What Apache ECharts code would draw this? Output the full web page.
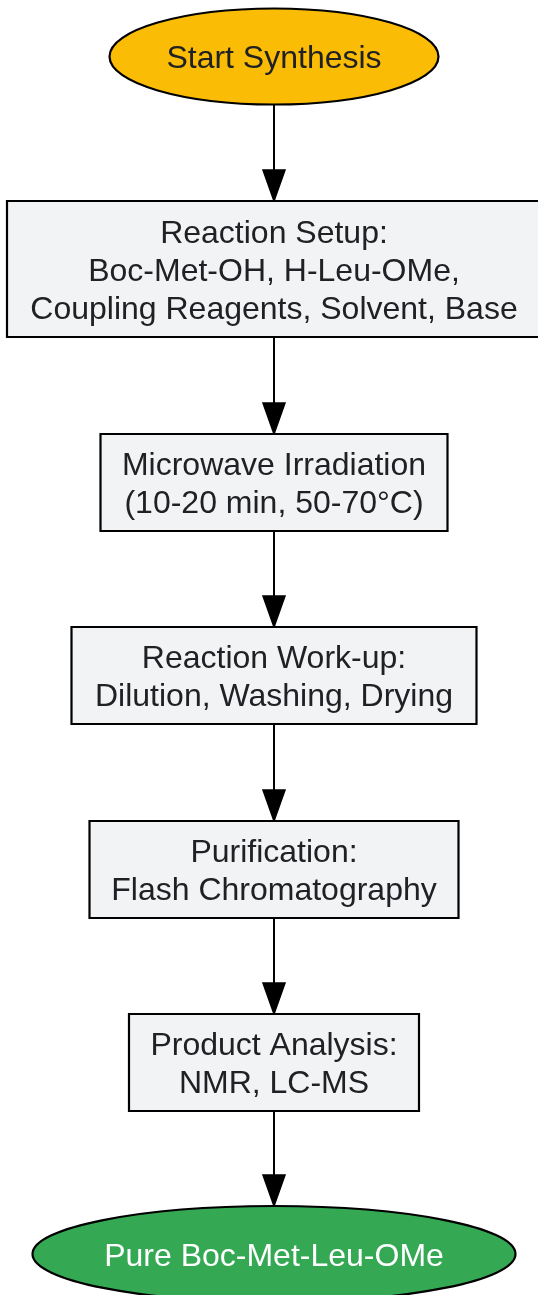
<!DOCTYPE html>
<html>
<head>
<meta charset="utf-8">
<title>Boc-Met-Leu-OMe synthesis workflow</title>
<script src="https://cdn.jsdelivr.net/npm/echarts@6/dist/echarts.min.js"></script>
<style>
    html, body { margin: 0; padding: 0; background: #ffffff; }
    #main { width: 538px; height: 1295px; }
</style>
</head>
<body>
<div id="main"></div>
<script>
// 流程步骤文字
var stepLabels = [
    'Start Synthesis',
    'Reaction Setup:\nBoc-Met-OH, H-Leu-OMe,\nCoupling Reagents, Solvent, Base',
    'Microwave Irradiation\n(10-20 min, 50-70°C)',
    'Reaction Work-up:\nDilution, Washing, Drying',
    'Purification:\nFlash Chromatography',
    'Product Analysis:\nNMR, LC-MS',
    'Pure Boc-Met-Leu-OMe'
];
var stepKinds = ['start', 'step', 'step', 'step', 'step', 'step', 'end'];
// 连线 (from, to)
var stepLinks = [[0, 1], [1, 2], [2, 3], [3, 4], [4, 5], [5, 6]];

// 版面 (像素)
var W = 538, H = 1295;
var colX = 274;
var rowY = [56.5, 269, 482.5, 675.5, 869.5, 1062.5, 1254];
var boxW = [329, 534, 347, 405, 369, 290, 483];
var boxH = [96, 136, 97, 97, 97, 97, 96];

var kindStyle = {
    start: { fill: '#FBBC05', text: '#202124' },
    step:  { fill: '#F1F3F4', text: '#202124' },
    end:   { fill: '#34A853', text: '#ffffff' }
};
var fontFamily = '"Liberation Sans", Arial, sans-serif';
var fontSize = 32;
var textShift = 3;   // 文字稍微偏下
var arrowLen = 31, arrowHalf = 11;

var nodeData = stepLabels.map(function (t, i) {
    return [colX, rowY[i], boxW[i], boxH[i], i];
});
var linkData = stepLinks.map(function (l) {
    var a = l[0], b = l[1];
    return [colX, rowY[a] + boxH[a] / 2, colX, rowY[b] - boxH[b] / 2];
});

function renderNode(params, api) {
    var i = api.value(4);
    var c = api.coord([api.value(0), api.value(1)]);
    var s = api.size([api.value(2), api.value(3)]);
    var st = kindStyle[stepKinds[i]];
    var shape;
    if (stepKinds[i] === 'step') {
        shape = {
            type: 'rect',
            shape: { x: c[0] - s[0] / 2, y: c[1] - s[1] / 2, width: s[0], height: s[1] },
            style: { fill: st.fill, stroke: '#000000', lineWidth: 2.2 }
        };
    } else {
        shape = {
            type: 'ellipse',
            shape: { cx: c[0], cy: c[1], rx: s[0] / 2, ry: s[1] / 2 },
            style: { fill: st.fill, stroke: '#000000', lineWidth: 2.2 }
        };
    }
    return {
        type: 'group',
        children: [shape, {
            type: 'text',
            style: {
                text: stepLabels[i],
                x: c[0], y: c[1] + textShift,
                align: 'center', verticalAlign: 'middle',
                fill: st.text,
                font: fontSize + 'px ' + fontFamily,
                lineHeight: 38
            }
        }]
    };
}

function renderLink(params, api) {
    var p1 = api.coord([api.value(0), api.value(1)]);
    var p2 = api.coord([api.value(2), api.value(3)]);
    return {
        type: 'group',
        children: [{
            type: 'line',
            shape: { x1: p1[0], y1: p1[1], x2: p2[0], y2: p2[1] - arrowLen + 2 },
            style: { stroke: '#000000', lineWidth: 2 }
        }, {
            type: 'polygon',
            shape: { points: [[p2[0] - arrowHalf, p2[1] - arrowLen], [p2[0] + arrowHalf, p2[1] - arrowLen], [p2[0], p2[1]]] },
            style: { fill: '#000000', stroke: '#000000', lineWidth: 1.5 }
        }]
    };
}

var chart = echarts.init(document.getElementById('main'));
chart.setOption({
    backgroundColor: '#ffffff',
    animation: false,
    grid: { left: 0, right: 0, top: 0, bottom: 0 },
    xAxis: { type: 'value', min: 0, max: W, show: false },
    yAxis: { type: 'value', min: 0, max: H, inverse: true, show: false },
    series: [{
        type: 'custom',
        renderItem: renderLink,
        data: linkData,
        silent: true
    }, {
        type: 'custom',
        renderItem: renderNode,
        data: nodeData,
        silent: true
    }]
});
</script>
</body>
</html>
